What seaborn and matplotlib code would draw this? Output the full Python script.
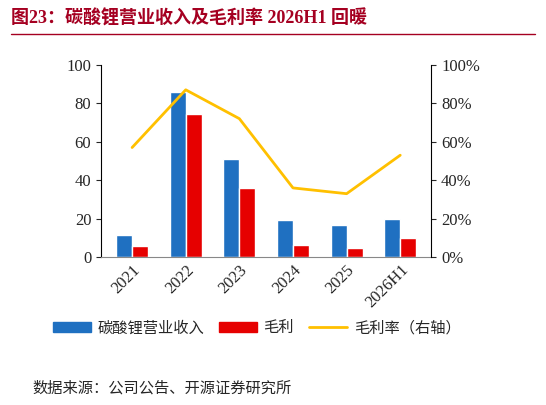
import matplotlib
matplotlib.use("Agg")
import matplotlib.pyplot as plt
import seaborn as sns
import pandas as pd
from matplotlib.ticker import PercentFormatter
from matplotlib.patches import Patch
from matplotlib.lines import Line2D

years = ["2021", "2022", "2023", "2024", "2025", "2026H1"]
revenue = [11.5, 86, 51, 19.5, 16.5, 20]
profit = [6, 74.5, 36, 6.5, 5, 10]
margin = [0.57, 0.87, 0.72, 0.36, 0.33, 0.53]

sns.set_style("white")
plt.rcParams['font.family'] = ['Liberation Serif', 'Noto Sans CJK SC']

fig = plt.figure(figsize=(5.46, 4.05), dpi=100)
ax = fig.add_axes([0.185, 0.365, 0.605, 0.475])

df = pd.DataFrame({"year": years * 2, "value": revenue + profit,
                   "s": ["碳酸锂营业收入"] * 6 + ["毛利"] * 6})
sns.barplot(data=df, x="year", y="value", hue="s", palette=["#1F70C1", "#E60000"],
            ax=ax, width=0.6, gap=0, legend=False, saturation=1)
ax.set_ylim(0, 100)
ax.set_yticks(range(0, 101, 20))
ax.set_xlabel(""); ax.set_ylabel("")
ax.tick_params(axis='x', rotation=45, labelsize=12, length=0)
ax.tick_params(axis='y', labelsize=12)
for lab in ax.get_xticklabels():
    lab.set_ha('right'); lab.set_rotation_mode('anchor')
for s in ["top", "right"]:
    ax.spines[s].set_visible(False)
ax.spines["left"].set_color("black"); ax.spines["bottom"].set_color("#888888")

ax2 = ax.twinx()
sns.lineplot(x=list(range(6)), y=margin, ax=ax2, color="#FFC000", linewidth=2)
ax2.set_ylim(0, 1)
ax2.yaxis.set_major_formatter(PercentFormatter(1.0, decimals=0))
ax2.set_yticks([i / 5 for i in range(6)])
ax2.tick_params(axis='y', labelsize=12)
for s in ["top", "left", "bottom"]:
    ax2.spines[s].set_visible(False)
ax2.spines["right"].set_color("black")

handles = [Patch(color="#1F70C1"), Patch(color="#E60000"), Line2D([], [], color="#FFC000", lw=2)]
fig.legend(handles, ["碳酸锂营业收入", "毛利", "毛利率（右轴）"], loc="center",
           bbox_to_anchor=(0.47, 0.19), ncol=3, frameon=False, fontsize=11,
           handlelength=2.5, columnspacing=1.0, handletextpad=0.4)

fig.text(0.02, 0.955, "图23：碳酸锂营业收入及毛利率 2026H1 回暖", fontsize=13,
         fontweight="bold", color="#A50021", va="center")
fig.add_artist(Line2D([0.02, 0.98], [0.915, 0.915], color="#A50021", lw=1))
fig.text(0.06, 0.04, "数据来源：公司公告、开源证券研究所", fontsize=11, va="center")

fig.savefig("out.png", dpi=100)
